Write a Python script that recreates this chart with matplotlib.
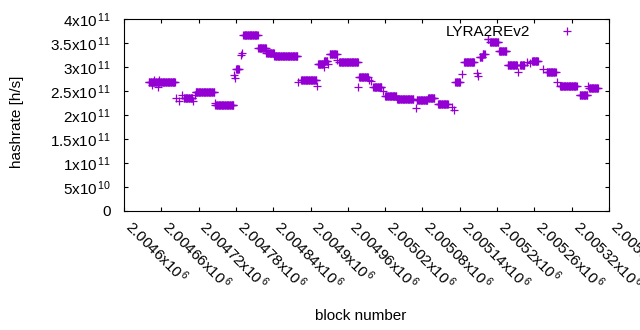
import numpy as np
import matplotlib
matplotlib.use('Agg')
import matplotlib.pyplot as plt
from matplotlib.ticker import FixedLocator, FuncFormatter

plt.rcParams['font.family'] = ['Liberation Sans', 'DejaVu Sans']
plt.rcParams['mathtext.fontset'] = 'custom'
plt.rcParams['mathtext.rm'] = 'Liberation Sans'
plt.rcParams['mathtext.it'] = 'Liberation Sans'

# Tramos de bloques con hashrate constante (inicio, fin, valor en 1e11 h/s)
run_start = [2004640, 2004645, 2004648, 2004655, 2004657, 2004683, 2004688, 2004694, 2004696,
             2004711, 2004714, 2004715, 2004746, 2004747, 2004777, 2004779, 2004780, 2004788,
             2004790, 2004792, 2004816, 2004829, 2004842, 2004880, 2004885, 2004910, 2004912,
             2004921, 2004922, 2004928, 2004931, 2004943, 2004946, 2004977, 2004978, 2004994,
             2004997, 2005001, 2005017, 2005020, 2005039, 2005069, 2005071, 2005089, 2005105,
             2005127, 2005130, 2005133, 2005143, 2005147, 2005167, 2005169, 2005172, 2005177,
             2005185, 2005189, 2005203, 2005217, 2005234, 2005237, 2005248, 2005253, 2005256,
             2005274, 2005280, 2005297, 2005301, 2005333, 2005347, 2005348]
run_end = [2004682, 2004645, 2004648, 2004655, 2004657, 2004683, 2004688, 2004694, 2004710,
           2004711, 2004714, 2004745, 2004746, 2004776, 2004777, 2004779, 2004785, 2004788,
           2004790, 2004815, 2004828, 2004841, 2004879, 2004880, 2004909, 2004910, 2004920,
           2004921, 2004927, 2004928, 2004942, 2004943, 2004976, 2004977, 2004992, 2004994,
           2004997, 2005014, 2005017, 2005038, 2005065, 2005069, 2005088, 2005099, 2005121,
           2005127, 2005130, 2005140, 2005143, 2005163, 2005167, 2005169, 2005176, 2005180,
           2005186, 2005202, 2005215, 2005232, 2005234, 2005244, 2005248, 2005253, 2005266,
           2005274, 2005294, 2005297, 2005328, 2005345, 2005347, 2005362]
run_value = [2.68, 2.62, 2.73, 2.59, 2.73, 2.35, 2.29, 2.42, 2.35,
             2.29, 2.42, 2.47, 2.24, 2.21, 2.83, 2.78, 2.95, 3.24,
             3.30, 3.67, 3.39, 3.29, 3.22, 2.68, 2.73, 2.61, 3.06,
             2.99, 3.12, 3.06, 3.27, 3.15, 3.10, 2.58, 2.80, 2.73,
             2.71, 2.59, 2.49, 2.40, 2.33, 2.14, 2.31, 2.36, 2.23,
             2.17, 2.10, 2.68, 2.85, 3.10, 2.87, 2.82, 3.21, 3.27,
             3.58, 3.53, 3.33, 3.04, 2.89, 3.04, 3.10, 3.08, 3.12,
             2.95, 2.90, 2.69, 2.61, 2.42, 2.60, 2.56]

yticks = [0, 0.5e11, 1e11, 1.5e11, 2e11, 2.5e11, 3e11, 3.5e11, 4e11]
ytick_labels = ['0', r'5x10$^{\,10}$', r'1x10$^{\,11}$', r'1.5x10$^{\,11}$', r'2x10$^{\,11}$',
                r'2.5x10$^{\,11}$', r'3x10$^{\,11}$', r'3.5x10$^{\,11}$', r'4x10$^{\,11}$']
xticks = [2004600 + 60 * i for i in range(14)]

# Expandir tramos a un punto por bloque
bloques = []
hashrate = []
for s, e, v in zip(run_start, run_end, run_value):
    for b in range(s, e + 1):
        bloques.append(b)
        hashrate.append(v * 1e11)

fig = plt.figure(figsize=(6.4, 3.3), dpi=100)
ax = fig.add_axes([124 / 640, 119 / 330, 485 / 640, 192 / 330])

ax.plot(bloques, hashrate, linestyle='none', marker='+', markersize=5.4,
        markeredgewidth=0.9, color='#9400d3', label='LYRA2REv2')

ax.set_xlim(2004600, 2005380)
ax.set_ylim(0, 4e11)
ax.xaxis.set_major_locator(FixedLocator(xticks))
ax.xaxis.set_major_formatter(FuncFormatter(lambda v, p: r'%gx10$^{\,6}$' % (v / 1e6)))
ax.set_yticks(yticks)
ax.set_yticklabels(ytick_labels)
ax.tick_params(direction='in', length=3, width=0.8, top=True, right=True, labelsize=11)
ax.tick_params(axis='y', pad=9.5)
ax.tick_params(axis='x', pad=12)
for lab in ax.get_xticklabels():
    lab.set_rotation(-45)
    lab.set_ha('left')
    lab.set_va('baseline')
    lab.set_rotation_mode('anchor')
for sp in ax.spines.values():
    sp.set_linewidth(0.8)

ax.set_xlabel('block number', fontsize=11)
ax.xaxis.set_label_coords(0.487, -0.51)
ax.set_ylabel('hashrate [h/s]', fontsize=11, va='center')
ax.yaxis.set_label_coords(-0.221, 0.465)

ax.legend(loc='upper right', frameon=False, markerfirst=False, fontsize=11,
          handlelength=4.7, handletextpad=0.05, borderpad=0.1, borderaxespad=0.3)

fig.savefig('out.png', dpi=100)
